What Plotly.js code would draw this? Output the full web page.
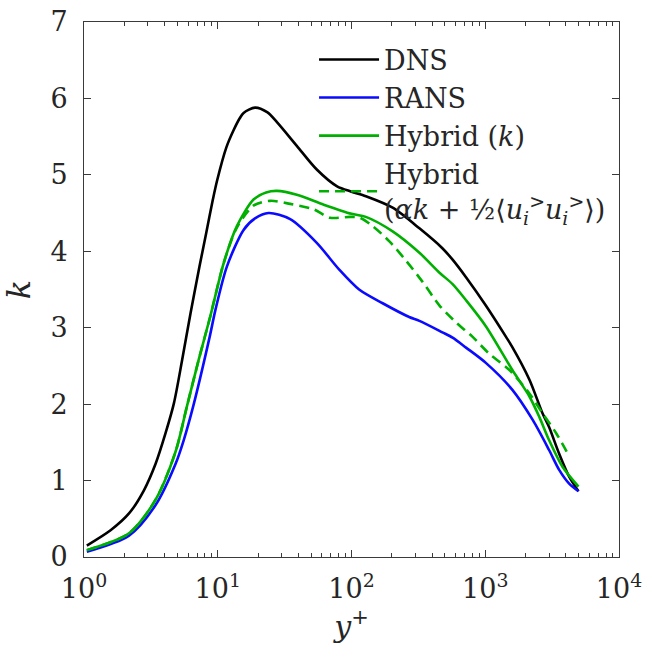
<!DOCTYPE html>
<html>
<head>
<meta charset="utf-8">
<script src="https://cdn.plot.ly/plotly-3.0.1.min.js"></script>
<style>
  html, body { margin: 0; padding: 0; background: #fff; }
  #chart { width: 654px; height: 657px; }
</style>
</head>
<body>
<div id="chart"></div>
<script>
// Turbulent kinetic energy k versus wall distance y+

const dnsYplus = [1.05, 1.58, 2.17, 2.8, 3.43, 4.07, 4.7, 5.42, 6.26, 7.3, 8.2, 9.2, 9.9, 11.6, 13.1, 14.6, 15.6, 19, 23.4, 27.7, 39, 55, 78, 100, 128, 203, 322, 478, 570, 718, 1010, 1430, 1590, 2140, 2680, 3000, 3570, 4240, 4980];
const dnsK     = [0.15, 0.35, 0.57, 0.87, 1.22, 1.62, 2.01, 2.58, 3.19, 3.80, 4.24, 4.68, 4.93, 5.36, 5.58, 5.74, 5.81, 5.88, 5.82, 5.69, 5.38, 5.07, 4.85, 4.78, 4.72, 4.57, 4.30, 4.04, 3.89, 3.66, 3.29, 2.88, 2.75, 2.32, 1.88, 1.70, 1.35, 1.05, 0.86];

const ransYplus = [1.05, 2.17, 3.43, 4.84, 5.57, 6.55, 8.7, 9.6, 11.7, 15.6, 19, 24, 34.8, 55, 81, 114, 171, 270, 322, 478, 570, 718, 1010, 1590, 2270, 3000, 3570, 4240, 4980];
const ransK     = [0.07, 0.28, 0.68, 1.22, 1.53, 1.97, 2.88, 3.23, 3.80, 4.28, 4.43, 4.50, 4.42, 4.11, 3.76, 3.50, 3.32, 3.14, 3.09, 2.94, 2.87, 2.74, 2.54, 2.19, 1.79, 1.40, 1.14, 0.96, 0.86];

const hybridYplus = [1.05, 2.17, 3.43, 4.84, 5.9, 7.2, 8.8, 11.1, 13.9, 18.6, 23, 27.7, 39, 62, 100, 128, 203, 322, 455, 570, 718, 1010, 1590, 2140, 2540, 3000, 3780, 4980];
const hybridK     = [0.09, 0.31, 0.75, 1.38, 1.98, 2.58, 3.15, 3.85, 4.33, 4.68, 4.77, 4.79, 4.74, 4.61, 4.49, 4.45, 4.26, 3.98, 3.72, 3.57, 3.36, 3.02, 2.45, 2.10, 1.83, 1.53, 1.18, 0.92];

const hybridResYplus = [1.05, 2.17, 3.43, 4.84, 5.9, 7.2, 8.8, 11.1, 13.9, 18.6, 24.7, 34.8, 52, 69, 98, 115, 144, 192, 255, 340, 455, 604, 805, 1070, 1510, 2140, 2680, 3390, 4240];
const hybridResK     = [0.09, 0.31, 0.75, 1.38, 1.98, 2.58, 3.15, 3.85, 4.31, 4.60, 4.66, 4.62, 4.55, 4.44, 4.45, 4.44, 4.33, 4.13, 3.88, 3.60, 3.29, 3.07, 2.88, 2.66, 2.45, 2.14, 1.88, 1.62, 1.32];

const seriesNames = [
  'DNS',
  'RANS',
  'Hybrid (<i>k</i>)',
  'Hybrid<br>(<i>αk</i> + ½⟨<i>u</i><sub><i>i</i></sub><sup>></sup><i>u</i><sub><i>i</i></sub><sup>></sup>⟩)'
];

const xTickVals = [1, 10, 100, 1000, 10000];
const xTickText = ['10<sup>0</sup>', '10<sup>1</sup>', '10<sup>2</sup>', '10<sup>3</sup>', '10<sup>4</sup>'];
const xMinorVals = [2, 3, 4, 5, 6, 7, 8, 9,
                    20, 30, 40, 50, 60, 70, 80, 90,
                    200, 300, 400, 500, 600, 700, 800, 900,
                    2000, 3000, 4000, 5000, 6000, 7000, 8000, 9000];
const yTickVals = [0, 1, 2, 3, 4, 5, 6, 7];

const axisColor = '#3a3a3a';
const textColor = '#262626';
const fontFamily = 'DejaVu Serif';

const lineShape = { shape: 'spline', smoothing: 0.8 };

const traces = [
  { x: dnsYplus, y: dnsK, name: seriesNames[0], mode: 'lines',
    line: Object.assign({ color: '#000000', width: 2.6 }, lineShape) },
  { x: ransYplus, y: ransK, name: seriesNames[1], mode: 'lines',
    line: Object.assign({ color: '#0a0aff', width: 2.6 }, lineShape) },
  { x: hybridYplus, y: hybridK, name: seriesNames[2], mode: 'lines',
    line: Object.assign({ color: '#00b000', width: 2.6 }, lineShape) },
  { x: hybridResYplus, y: hybridResK, name: seriesNames[3], mode: 'lines',
    line: Object.assign({ color: '#00b000', width: 2.6, dash: '10px,6px' }, lineShape) }
];

const axisCommon = {
  showline: true, linecolor: axisColor, linewidth: 1,
  mirror: 'ticks', ticks: 'inside', ticklen: 7, tickwidth: 1, tickcolor: axisColor,
  showgrid: false, zeroline: false,
  tickfont: { family: fontFamily, size: 27, color: textColor }
};

const layout = {
  width: 654, height: 657,
  margin: { l: 84, r: 35, t: 22, b: 100 },
  paper_bgcolor: '#ffffff', plot_bgcolor: '#ffffff',
  font: { family: fontFamily, color: textColor },
  showlegend: true,
  legend: {
    x: 0.43, y: 0.975, xanchor: 'left', yanchor: 'top',
    bgcolor: 'rgba(0,0,0,0)', borderwidth: 0,
    itemwidth: 60,
    font: { family: fontFamily, size: 27, color: textColor },
    tracegroupgap: 0
  },
  xaxis: Object.assign({}, axisCommon, {
    type: 'log', range: [0, 4],
    tickmode: 'array', tickvals: xTickVals, ticktext: xTickText,
    minor: { tickmode: 'array', tickvals: xMinorVals, ticks: 'inside', ticklen: 4, tickcolor: axisColor, showgrid: false },
    ticklabelstandoff: 8,
    title: { text: '<i>y</i><sup>+</sup>', font: { family: fontFamily, size: 30, color: textColor }, standoff: 12 },
    automargin: false
  }),
  yaxis: Object.assign({}, axisCommon, {
    range: [0, 7],
    tickmode: 'array', tickvals: yTickVals,
    ticklabelstandoff: 10,
    title: { text: '<i>k</i>', font: { family: fontFamily, size: 32, color: textColor }, standoff: 10 },
    automargin: false
  })
};

Plotly.newPlot('chart', traces, layout, { staticPlot: true, displayModeBar: false });
</script>
</body>
</html>
